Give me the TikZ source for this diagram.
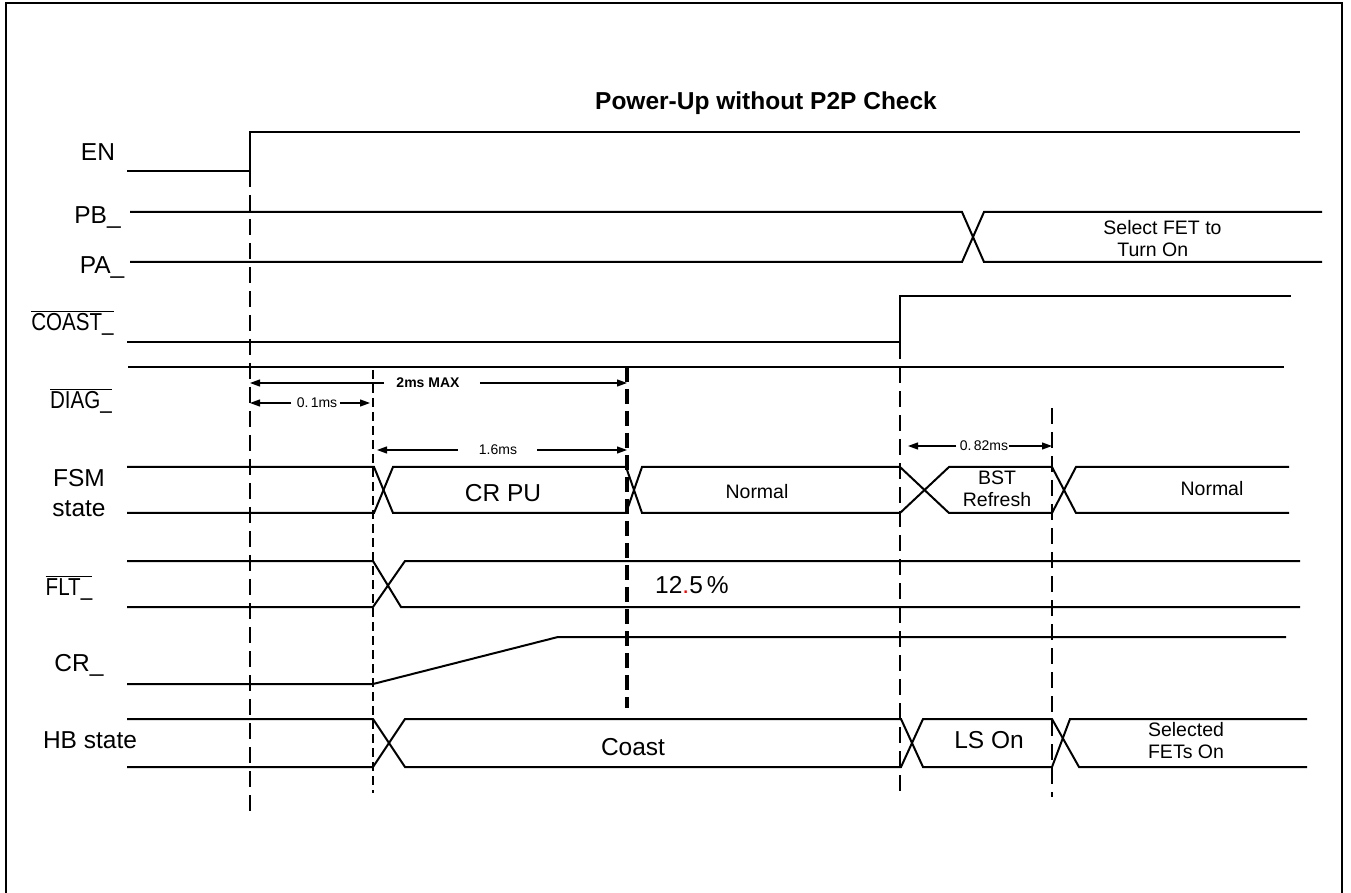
\documentclass[tikz,border=0pt]{standalone}
\usepackage{fontspec}
\setmainfont{Liberation Sans}
\usepackage{graphicx}
\usetikzlibrary{arrows.meta}
\newcommand{\siglbl}{\fontsize{12.25}{14}\selectfont}
\newcommand{\statelbl}{\fontsize{9.75}{11}\selectfont}
\newcommand{\dimlbl}{\fontsize{7}{8}\selectfont}
\newcommand{\barsig}[1]{$\overline{\hbox{\scalebox{0.84}[1]{#1}}}$}

\begin{document}
\begin{tikzpicture}[
  x=0.5pt,y=-0.5pt,
  >={Triangle[length=5pt,width=3.5pt]},
  sig/.style={line width=1pt},
  marker/.style={line width=0.8pt,dash pattern=on 8pt off 4pt},
  siglabel/.style={font=\siglbl,inner sep=0pt,anchor=base},
  bigtext/.style={font=\siglbl,inner sep=0pt},
  statetext/.style={font=\statelbl,inner sep=0pt,align=center},
  dimtext/.style={font=\dimlbl,inner sep=0pt},
  dimline/.style={->,line width=0.6pt}
]
  \useasboundingbox (0,0) rectangle (1351,893);
  \draw[line width=1pt] (6,900) -- (6,3) -- (1342,3) -- (1342,900);

  \node[font=\siglbl\bfseries,inner sep=0pt] (title) at (766,103) {Power-Up without P2P Check};

  % signal names
  \node[siglabel] (en) at (98,161) {EN};
  \node[siglabel] (pb) at (97.5,224) {PB\_};
  \node[siglabel] (pa) at (102,274) {PA\_};
  \node[siglabel] (coastn) at (72.5,331) {\barsig{COAST\_}};
  \node[siglabel] (diag) at (81,409) {\barsig{DIAG\_}};
  \node[siglabel,anchor=center,align=center,font={\fontsize{12.25}{15}\selectfont}] (fsm) at (79,493) {FSM\\state};
  \node[siglabel] (flt) at (69,596) {\barsig{FLT\_}};
  \node[siglabel] (cr) at (79,671) {CR\_};
  \node[siglabel] (hb) at (90,748) {HB state};

  % waveforms
  \draw[sig] (127,171) -- (250,171) -- (250,132) -- (1300,132);
  \draw[sig] (130,212) -- (962,212) -- (984,262) -- (1322,262);
  \draw[sig] (130,262) -- (962,262) -- (984,212) -- (1322,212);
  \draw[sig] (127,342) -- (900,342) -- (900,296) -- (1291,296);
  \draw[sig] (128,367) -- (1284,367);
  \draw[sig] (127,467) -- (374,467) -- (393,513) -- (626,513) -- (642,467) -- (900,467)
    -- (949,513) -- (1052,513) -- (1076,467) -- (1289,467);
  \draw[sig] (127,513) -- (374,513) -- (393,467) -- (626,467) -- (642,513) -- (900,513)
    -- (949,467) -- (1052,467) -- (1076,513) -- (1289,513);
  \draw[sig] (127,561) -- (373,561) -- (401,607) -- (1300,607);
  \draw[sig] (127,607) -- (373,607) -- (405,561) -- (1300,561);
  \draw[sig] (127,684) -- (373,684) -- (558,637) -- (1286,637);
  \draw[sig] (127,719) -- (373,719) -- (405,767) -- (901,767) -- (923,719) -- (1052,719)
    -- (1079,767) -- (1307,767);
  \draw[sig] (127,767) -- (373,767) -- (405,719) -- (901,719) -- (923,767) -- (1052,767)
    -- (1070,719) -- (1307,719);

  % time markers
  \coordinate (mk0) at (250,171);
  \coordinate (mk1) at (373,370);
  \coordinate (mk2) at (627,367);
  \coordinate (mk3) at (900,343);
  \coordinate (mk4) at (1052,408);
  \draw[marker] (mk0) -- ++(0,642);
  \draw[marker,line width=0.75pt,dash pattern=on 4.5pt off 2.5pt] (mk1) -- ++(0,423);
  \draw[marker,line width=1.75pt,dash pattern=on 7.5pt off 3.5pt] (mk2) -- ++(0,341);
  \draw[marker,line width=1.1pt] (mk3) -- ++(0,454);
  \draw[marker,line width=1.1pt] (mk4) -- ++(0,389);

  % state texts
  \node[bigtext] (crpu) at (503,493) {CR PU};
  \node[statetext] (norm1) at (757,492) {Normal};
  \node[statetext] (bst) at (997,489) {BST\\Refresh};
  \node[statetext] (norm2) at (1212,489) {Normal};
  \node[bigtext] (pct) at (692,585) {12{\color{red}.}5\,\%};
  \node[bigtext] (coast) at (633,747) {Coast};
  \node[bigtext] (lson) at (989,740) {LS On};
  \node[statetext] (selfets) at (1186,741) {Selected\\FETs On};
  \node[statetext,align=left,anchor=west] (selfet) at (1103,239) {Select FET to\\\hspace*{7pt}Turn On};

  % timing dimensions
  \node[dimtext,font=\dimlbl\bfseries] (dmax) at (428,383) {2ms MAX};
  \draw[dimline] ([xshift=-6pt]dmax.west) -- (dmax.west -| mk0);
  \draw[dimline] ([xshift=10pt]dmax.east) -- (dmax.east -| mk2);
  \node[dimtext] (d01) at (317,403) {0.\,1ms};
  \draw[dimline] ([xshift=-2.5pt]d01.west) -- (d01.west -| mk0);
  \draw[dimline,shorten >=1.5pt] ([xshift=1pt]d01.east) -- (d01.east -| mk1);
  \node[dimtext] (d16) at (498,450) {1.6ms};
  \draw[dimline,shorten >=2pt] ([xshift=-10.5pt]d16.west) -- (d16.west -| mk1);
  \draw[dimline] ([xshift=10pt]d16.east) -- (d16.east -| mk2);
  \node[dimtext] (d082) at (984,446) {0.\,82ms};
  \draw[dimline,shorten >=4pt] ([xshift=-1.5pt]d082.west) -- (d082.west -| mk3);
  \draw[dimline] (d082.east) -- (d082.east -| mk4);
\end{tikzpicture}
\end{document}
